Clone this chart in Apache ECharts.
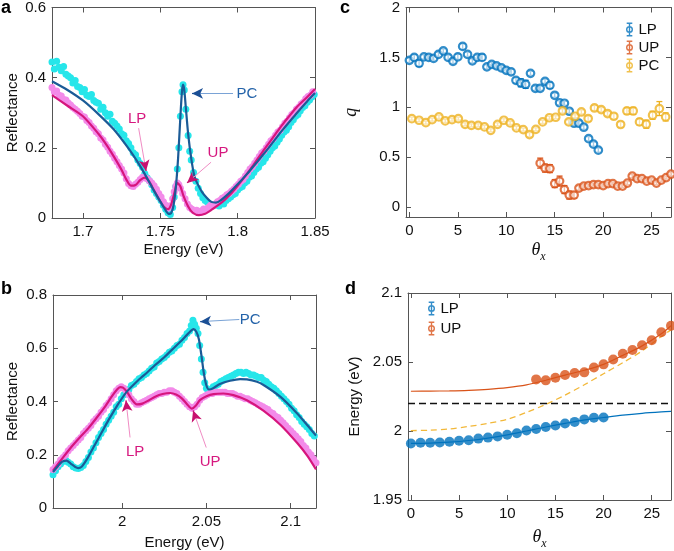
<!DOCTYPE html>
<html><head><meta charset="utf-8">
<script src="https://cdn.jsdelivr.net/npm/echarts@6/dist/echarts.min.js"></script>
<style>html,body{margin:0;padding:0;background:#fff}#c{width:674px;height:551px}</style>
</head><body><div id="c"></div>
<script>
// ---------------- DATA ----------------
// Panel a: measured reflectance (PC cyan, coupled pink) and fits
const aCyan = [[1.680,0.445],[1.6815,0.425],[1.683,0.447],[1.6845,0.43],[1.686,0.42],[1.6875,0.432],[1.689,0.41],[1.6905,0.405],[1.692,0.40],[1.6935,0.385],[1.695,0.392],[1.6965,0.375],[1.698,0.372],[1.6995,0.36],[1.701,0.366],[1.7025,0.35],[1.704,0.346],[1.7055,0.352],[1.707,0.335],[1.7085,0.33],[1.710,0.327],[1.7115,0.31],[1.713,0.316],[1.7145,0.30],[1.716,0.29],[1.7175,0.296],[1.719,0.276],[1.7205,0.27],[1.722,0.262],[1.7235,0.254],[1.725,0.24],[1.7265,0.236],[1.728,0.22],[1.7295,0.212],[1.731,0.20],[1.7325,0.186],[1.734,0.18],[1.7355,0.165],[1.737,0.155],[1.7385,0.145],[1.740,0.126],[1.7415,0.115],[1.743,0.106],[1.7445,0.095],[1.746,0.08],[1.7475,0.07],[1.749,0.06],[1.7505,0.05],[1.752,0.036],[1.7535,0.025],[1.755,0.015],[1.7565,0.01],[1.758,0.03],[1.759,0.06],[1.760,0.09],[1.761,0.14],[1.762,0.20],[1.763,0.29],[1.764,0.36],[1.7647,0.38],[1.7655,0.365],[1.7665,0.31],[1.768,0.235],[1.769,0.19],[1.770,0.165],[1.7715,0.13],[1.773,0.105],[1.7745,0.085],[1.776,0.07],[1.7775,0.058],[1.779,0.05],[1.7805,0.045],[1.782,0.04],[1.7835,0.034],[1.785,0.036],[1.7865,0.042],[1.788,0.034],[1.7895,0.046],[1.791,0.04],[1.7925,0.05],[1.794,0.055],[1.7955,0.06],[1.797,0.066],[1.7985,0.07],[1.800,0.08],[1.8015,0.086],[1.803,0.09],[1.8045,0.10],[1.806,0.105],[1.8075,0.116],[1.809,0.12],[1.8105,0.13],[1.812,0.14],[1.8135,0.145],[1.815,0.156],[1.8165,0.16],[1.818,0.17],[1.8195,0.18],[1.821,0.19],[1.8225,0.20],[1.824,0.205],[1.8255,0.216],[1.827,0.225],[1.8285,0.236],[1.830,0.245],[1.8315,0.25],[1.833,0.26],[1.8345,0.272],[1.836,0.28],[1.8375,0.29],[1.839,0.295],[1.8405,0.306],[1.842,0.315],[1.8435,0.32],[1.845,0.33],[1.8465,0.336],[1.848,0.345],[1.8495,0.352]];
const aPink = [[1.680,0.372],[1.6815,0.36],[1.683,0.362],[1.6845,0.35],[1.686,0.348],[1.6875,0.338],[1.689,0.336],[1.6905,0.328],[1.692,0.322],[1.6935,0.315],[1.695,0.31],[1.6965,0.304],[1.698,0.298],[1.6995,0.29],[1.701,0.288],[1.7025,0.278],[1.704,0.272],[1.7055,0.262],[1.707,0.256],[1.7085,0.246],[1.710,0.24],[1.7115,0.228],[1.713,0.222],[1.7145,0.21],[1.716,0.202],[1.7175,0.19],[1.719,0.182],[1.7205,0.17],[1.722,0.16],[1.7235,0.15],[1.725,0.14],[1.7265,0.128],[1.728,0.112],[1.7295,0.098],[1.731,0.092],[1.7325,0.09],[1.734,0.096],[1.7355,0.102],[1.737,0.11],[1.7385,0.116],[1.740,0.115],[1.7415,0.112],[1.743,0.106],[1.7445,0.10],[1.746,0.092],[1.7475,0.082],[1.749,0.07],[1.7505,0.06],[1.752,0.046],[1.7535,0.036],[1.755,0.028],[1.7565,0.035],[1.758,0.055],[1.759,0.075],[1.760,0.09],[1.761,0.10],[1.762,0.095],[1.763,0.085],[1.7645,0.07],[1.766,0.055],[1.7675,0.04],[1.769,0.03],[1.7705,0.025],[1.772,0.02],[1.7735,0.022],[1.775,0.016],[1.7765,0.02],[1.778,0.026],[1.7795,0.024],[1.781,0.03],[1.7825,0.036],[1.784,0.034],[1.7855,0.04],[1.787,0.046],[1.7885,0.05],[1.790,0.056],[1.7915,0.06],[1.793,0.066],[1.7945,0.07],[1.796,0.076],[1.7975,0.082],[1.799,0.09],[1.8005,0.096],[1.802,0.105],[1.8035,0.11],[1.805,0.12],[1.8065,0.13],[1.808,0.14],[1.8095,0.146],[1.811,0.156],[1.8125,0.165],[1.814,0.175],[1.8155,0.185],[1.817,0.19],[1.8185,0.20],[1.820,0.21],[1.8215,0.22],[1.823,0.226],[1.8245,0.236],[1.826,0.245],[1.8275,0.25],[1.829,0.26],[1.8305,0.27],[1.832,0.276],[1.8335,0.286],[1.835,0.295],[1.8365,0.30],[1.838,0.31],[1.8395,0.316],[1.841,0.325],[1.8425,0.33],[1.844,0.34],[1.8455,0.346],[1.847,0.35],[1.8485,0.36]];
const aBlueFit = [[1.680,0.390],[1.690,0.365],[1.700,0.335],[1.710,0.296],[1.720,0.252],[1.730,0.195],[1.735,0.162],[1.740,0.125],[1.745,0.085],[1.750,0.047],[1.753,0.025],[1.7555,0.012],[1.757,0.014],[1.7585,0.035],[1.760,0.085],[1.7615,0.17],[1.763,0.29],[1.764,0.36],[1.7647,0.38],[1.7655,0.365],[1.7665,0.315],[1.768,0.24],[1.770,0.17],[1.772,0.12],[1.774,0.098],[1.777,0.074],[1.780,0.058],[1.783,0.046],[1.786,0.044],[1.789,0.05],[1.795,0.073],[1.800,0.096],[1.806,0.125],[1.810,0.146],[1.816,0.178],[1.820,0.200],[1.827,0.240],[1.830,0.256],[1.838,0.298],[1.845,0.333],[1.850,0.356]];
const aPinkFit = [[1.680,0.350],[1.690,0.320],[1.700,0.290],[1.710,0.240],[1.715,0.210],[1.720,0.175],[1.725,0.137],[1.728,0.110],[1.731,0.092],[1.734,0.094],[1.737,0.108],[1.740,0.115],[1.743,0.103],[1.746,0.078],[1.750,0.047],[1.753,0.029],[1.755,0.025],[1.757,0.038],[1.759,0.070],[1.761,0.100],[1.763,0.090],[1.765,0.063],[1.768,0.033],[1.771,0.015],[1.775,0.008],[1.779,0.012],[1.783,0.023],[1.790,0.045],[1.795,0.066],[1.800,0.092],[1.806,0.126],[1.810,0.150],[1.816,0.188],[1.820,0.212],[1.827,0.255],[1.830,0.272],[1.838,0.315],[1.845,0.345],[1.850,0.368]];

// Panel b
const bCyan = [[1.959,0.125],[1.9605,0.14],[1.962,0.155],[1.9635,0.165],[1.965,0.175],[1.9665,0.18],[1.968,0.172],[1.9695,0.165],[1.971,0.155],[1.9725,0.15],[1.974,0.148],[1.9755,0.152],[1.977,0.16],[1.9785,0.175],[1.980,0.19],[1.9815,0.21],[1.983,0.225],[1.9845,0.245],[1.986,0.265],[1.9875,0.28],[1.989,0.295],[1.9905,0.315],[1.992,0.33],[1.9935,0.345],[1.995,0.36],[1.9965,0.38],[1.998,0.39],[1.9995,0.41],[2.001,0.425],[2.0025,0.435],[2.004,0.445],[2.0055,0.46],[2.007,0.465],[2.0085,0.475],[2.010,0.485],[2.0115,0.49],[2.013,0.50],[2.0145,0.505],[2.016,0.515],[2.0175,0.525],[2.019,0.53],[2.0205,0.545],[2.022,0.55],[2.0235,0.56],[2.025,0.565],[2.0265,0.575],[2.028,0.585],[2.0295,0.59],[2.031,0.60],[2.0325,0.61],[2.034,0.615],[2.0355,0.63],[2.037,0.64],[2.0385,0.655],[2.040,0.665],[2.041,0.685],[2.042,0.705],[2.043,0.69],[2.044,0.675],[2.045,0.655],[2.046,0.61],[2.047,0.56],[2.048,0.51],[2.049,0.47],[2.050,0.45],[2.051,0.44],[2.0525,0.445],[2.054,0.455],[2.0555,0.46],[2.057,0.465],[2.0585,0.475],[2.060,0.48],[2.0615,0.485],[2.063,0.49],[2.0645,0.495],[2.066,0.50],[2.0675,0.505],[2.069,0.51],[2.0705,0.51],[2.072,0.505],[2.0735,0.51],[2.075,0.505],[2.0765,0.50],[2.078,0.50],[2.0795,0.495],[2.081,0.49],[2.0825,0.49],[2.084,0.48],[2.0855,0.475],[2.087,0.465],[2.0885,0.455],[2.090,0.45],[2.0915,0.44],[2.093,0.43],[2.0945,0.42],[2.096,0.41],[2.0975,0.40],[2.099,0.39],[2.1005,0.375],[2.102,0.365],[2.1035,0.35],[2.105,0.34],[2.1065,0.325],[2.108,0.315],[2.1095,0.305],[2.111,0.295],[2.1125,0.28],[2.114,0.27]];
const bPink = [[1.959,0.145],[1.9605,0.155],[1.962,0.165],[1.9635,0.18],[1.965,0.19],[1.9665,0.20],[1.968,0.215],[1.9695,0.225],[1.971,0.235],[1.9725,0.245],[1.974,0.255],[1.9755,0.265],[1.977,0.28],[1.9785,0.29],[1.980,0.30],[1.9815,0.31],[1.983,0.325],[1.9845,0.335],[1.986,0.345],[1.9875,0.36],[1.989,0.37],[1.9905,0.385],[1.992,0.395],[1.9935,0.41],[1.995,0.425],[1.9965,0.44],[1.998,0.45],[1.9995,0.455],[2.001,0.45],[2.0025,0.44],[2.004,0.425],[2.0055,0.41],[2.007,0.40],[2.0085,0.39],[2.010,0.39],[2.0115,0.395],[2.013,0.40],[2.0145,0.405],[2.016,0.41],[2.0175,0.415],[2.019,0.42],[2.0205,0.425],[2.022,0.43],[2.0235,0.43],[2.025,0.435],[2.0265,0.435],[2.028,0.44],[2.0295,0.44],[2.031,0.435],[2.0325,0.43],[2.034,0.42],[2.0355,0.41],[2.037,0.40],[2.0385,0.39],[2.040,0.38],[2.0415,0.375],[2.043,0.38],[2.0445,0.39],[2.046,0.405],[2.0475,0.415],[2.049,0.42],[2.0505,0.425],[2.052,0.43],[2.0535,0.43],[2.055,0.435],[2.0565,0.435],[2.058,0.435],[2.0595,0.435],[2.061,0.435],[2.0625,0.43],[2.064,0.43],[2.0655,0.43],[2.067,0.425],[2.0685,0.42],[2.070,0.42],[2.0715,0.415],[2.073,0.41],[2.0745,0.41],[2.076,0.405],[2.0775,0.40],[2.079,0.395],[2.0805,0.39],[2.082,0.385],[2.0835,0.38],[2.085,0.375],[2.0865,0.37],[2.088,0.36],[2.0895,0.355],[2.091,0.345],[2.0925,0.34],[2.094,0.33],[2.0955,0.32],[2.097,0.31],[2.0985,0.30],[2.100,0.29],[2.1015,0.28],[2.103,0.27],[2.1045,0.26],[2.106,0.25],[2.1075,0.235],[2.109,0.225],[2.1105,0.21],[2.112,0.20],[2.1135,0.185],[2.115,0.17]];
const bBlueFit = [[1.959,0.135],[1.962,0.158],[1.9645,0.174],[1.967,0.178],[1.9695,0.167],[1.972,0.155],[1.974,0.150],[1.976,0.155],[1.978,0.172],[1.980,0.193],[1.983,0.228],[1.986,0.262],[1.989,0.297],[1.992,0.331],[1.995,0.363],[1.998,0.394],[2.0028,0.437],[2.0097,0.481],[2.015,0.510],[2.0196,0.537],[2.025,0.566],[2.0295,0.594],[2.035,0.627],[2.0393,0.656],[2.0423,0.672],[2.044,0.662],[2.0455,0.635],[2.047,0.575],[2.0485,0.505],[2.050,0.46],[2.0515,0.445],[2.054,0.45],[2.058,0.466],[2.064,0.478],[2.070,0.484],[2.074,0.483],[2.080,0.474],[2.0839,0.462],[2.0938,0.418],[2.1037,0.356],[2.110,0.31],[2.115,0.272]];
const bPinkFit = [[1.959,0.140],[1.965,0.19],[1.9701,0.231],[1.975,0.266],[1.980,0.30],[1.985,0.34],[1.9899,0.381],[1.994,0.42],[1.997,0.445],[1.9988,0.454],[2.0005,0.452],[2.0028,0.437],[2.0055,0.41],[2.0087,0.389],[2.012,0.392],[2.016,0.405],[2.0196,0.418],[2.024,0.428],[2.0285,0.432],[2.032,0.426],[2.0354,0.412],[2.0385,0.39],[2.0414,0.373],[2.0435,0.383],[2.0463,0.406],[2.050,0.42],[2.0542,0.428],[2.0601,0.43],[2.066,0.424],[2.074,0.405],[2.084,0.365],[2.094,0.312],[2.104,0.243],[2.110,0.195],[2.115,0.145]];

// Panel c: Fano q parameter vs angle
const cLpTheta = [0,0.5,1,1.5,2,2.5,3,3.5,4,4.5,5,5.5,6,6.5,7,7.5,8,8.5,9,9.5,10,10.5,11,11.5,12,12.5,13,13.5,14,14.5,15,15.5,16,16.5,17,17.5,18,18.5,19,19.5];
const cLpQ = [1.47,1.50,1.44,1.505,1.50,1.49,1.53,1.565,1.50,1.46,1.505,1.61,1.53,1.465,1.50,1.50,1.405,1.43,1.415,1.395,1.37,1.355,1.27,1.245,1.23,1.34,1.19,1.19,1.26,1.22,1.12,1.045,1.04,0.96,0.84,0.84,0.80,0.685,0.63,0.57];
const cLpErr = [0.02,0.025,0.03,0.02,0.02,0.02,0.02,0.02,0.02,0.02,0.025,0.025,0.02,0.02,0.02,0.03,0.02,0.02,0.02,0.02,0.02,0.025,0.025,0.04,0.04,0.02,0.02,0.02,0.02,0.03,0.02,0.02,0.02,0.02,0.02,0.02,0.02,0.02,0.02,0.02];
const cUpTheta = [13.5,14,14.5,15,15.5,16,16.5,17,17.5,18,18.5,19,19.5,20,20.5,21,21.5,22,22.5,23,23.5,24,24.5,25,25.5,26,26.5,27];
const cUpQ = [0.44,0.39,0.385,0.235,0.26,0.175,0.12,0.12,0.19,0.21,0.215,0.225,0.225,0.215,0.235,0.235,0.21,0.21,0.24,0.31,0.285,0.285,0.26,0.27,0.24,0.27,0.295,0.33];
const cUpErr = [0.05,0.04,0.04,0.04,0.05,0.04,0.04,0.03,0.02,0.015,0.015,0.015,0.015,0.015,0.015,0.015,0.015,0.015,0.015,0.015,0.015,0.015,0.015,0.015,0.015,0.015,0.015,0.015];
const cPcTheta = [0.25,1.0,1.7,2.35,3.05,3.7,4.4,5.05,5.75,6.4,7.1,7.75,8.4,9.1,9.75,10.4,11.05,11.75,12.4,13.05,13.75,14.45,15.1,15.8,16.45,17.1,17.75,18.45,19.1,19.8,20.45,21.1,21.8,22.45,23.1,23.75,24.45,25.1,25.8,26.45];
const cPcQ = [0.886,0.87,0.846,0.876,0.903,0.863,0.876,0.886,0.829,0.819,0.819,0.803,0.769,0.829,0.87,0.843,0.793,0.776,0.726,0.779,0.853,0.895,0.90,0.963,0.853,0.91,0.953,0.887,0.993,0.977,0.937,0.91,0.827,0.963,0.963,0.853,0.83,0.92,0.987,0.903];
const cPcErr = [0.015,0.015,0.015,0.015,0.015,0.015,0.015,0.015,0.015,0.015,0.015,0.015,0.015,0.015,0.015,0.015,0.015,0.015,0.02,0.015,0.015,0.015,0.015,0.02,0.02,0.015,0.02,0.025,0.025,0.02,0.02,0.025,0.025,0.03,0.035,0.03,0.04,0.04,0.07,0.04];

// Panel d: polariton dispersion
const dLpTheta = [0,1,2,3,4,5,6,7,8,9,10,11,12,13,14,15,16,17,18,19,20];
const dLpE = [1.991,1.9915,1.9915,1.9917,1.9922,1.9929,1.9933,1.9945,1.9952,1.9961,1.9973,1.9984,2.0003,2.0015,2.0029,2.004,2.0054,2.0066,2.0084,2.0096,2.0098];
const dUpTheta = [13,14,15,16,17,18,19,20,21,22,23,24,25,26,27];
const dUpE = [2.0374,2.0367,2.0386,2.0406,2.042,2.0425,2.046,2.0483,2.0518,2.056,2.0587,2.0622,2.0657,2.0715,2.0763];
const dFitTheta = [0,2,4,6,8,10,12,14,16,18,20,22,24,26,27];
const dUpFit = [2.0288,2.0289,2.0291,2.0295,2.0302,2.0314,2.0334,2.0368,2.0405,2.0440,2.0483,2.0548,2.0617,2.0705,2.0763];
const dLpFit = [1.9910,1.9912,1.9919,1.9931,1.9949,1.9972,2.0000,2.0029,2.0055,2.0080,2.0098,2.0115,2.0128,2.0138,2.0142];
const dPhFit = [2.0003,2.0006,2.0015,2.0033,2.0055,2.0085,2.0135,2.0193,2.0260,2.0335,2.0415,2.0495,2.0580,2.0685,2.0733];
const dExciton = 2.0193;

// Tick labels
const aXTicks = [1.7,1.75,1.8,1.85], aYTicks = [0,0.2,0.4,0.6];
const bXTicks = [2,2.05,2.1], bYTicks = [0,0.2,0.4,0.6,0.8];
const cXTicks = [0,5,10,15,20,25], cYTicks = [0,0.5,1,1.5,2];
const dXTicks = [0,5,10,15,20,25], dYTicks = [1.95,2,2.05,2.1];

// Annotation anchors (data coordinates): text, arrow start, arrow end
const annA = [
  {t:'PC', c:'blue', text:[1.806,0.355], from:[1.797,0.355], to:[1.7705,0.355]},
  {t:'LP', c:'pink', text:[1.735,0.284], from:[1.736,0.256], to:[1.7408,0.134]},
  {t:'UP', c:'pink', text:[1.7873,0.185], from:[1.7828,0.159], to:[1.7673,0.10]}
];
const annB = [
  {t:'PC', c:'blue', text:[2.076,0.705], from:[2.0695,0.708], to:[2.0463,0.70]},
  {t:'LP', c:'pink', text:[2.0077,0.211], from:[2.0047,0.265], to:[2.0023,0.404]},
  {t:'UP', c:'pink', text:[2.0522,0.175], from:[2.0499,0.227], to:[2.0421,0.366]}
];

// ---------------- STYLE ----------------
const FONT = '"Liberation Sans", Arial, Helvetica, sans-serif';
const SERIF = '"Liberation Serif", "Times New Roman", serif';
const AX = '#555';
const CYAN = '#26e6ea', PINK = '#f38ae9', BLUEFIT = '#1b5b97', PINKFIT = '#d6157d';
const LPC = '#0072BD', UPC = '#D95319', PCC = '#EDB120';
const ANNCOL = {blue:{text:'#2463a9', line:'#7aa3d6', head:'#1b4f95'}, pink:{text:'#d6187f', line:'#f08cc4', head:'#c8106f'}};
const ICON = 'path://M6 0H14V2H11V18H14V20H6V18H9V2H6Z M10 5A5 5 0 1 1 10 15A5 5 0 1 1 10 5Z M10 7A3 3 0 1 0 10 13A3 3 0 1 0 10 7Z';

const fmt = v => String(+(+v).toFixed(3));

function xAxes(gi, min, max, ticks, name, nameGap, nameStyle) {
  const base = {gridIndex: gi, type: 'value', min, max, splitLine: {show: false},
    axisLine: {show: true, onZero: false, lineStyle: {color: AX, width: 1}},
    axisTick: {show: true, inside: true, length: 5, customValues: ticks, lineStyle: {color: AX}}};
  return [
    Object.assign({}, base, {position: 'bottom', name, nameLocation: 'middle', nameGap,
      nameTextStyle: nameStyle,
      axisLabel: {customValues: ticks, formatter: fmt, color: '#111', fontSize: 15, fontFamily: FONT, margin: 6}}),
    Object.assign({}, base, {position: 'top', axisLabel: {show: false}})
  ];
}
function yAxes(gi, min, max, ticks, name, nameGap, nameStyle) {
  const base = {gridIndex: gi, type: 'value', min, max, splitLine: {show: false},
    axisLine: {show: true, onZero: false, lineStyle: {color: AX, width: 1}},
    axisTick: {show: true, inside: true, length: 5, customValues: ticks, lineStyle: {color: AX}}};
  return [
    Object.assign({}, base, {position: 'left', name, nameLocation: 'middle', nameGap,
      nameTextStyle: nameStyle,
      axisLabel: {customValues: ticks, formatter: fmt, color: '#111', fontSize: 15, fontFamily: FONT, margin: 6}}),
    Object.assign({}, base, {position: 'right', axisLabel: {show: false}})
  ];
}
const sansName = {fontSize: 15, fontFamily: FONT, color: '#111'};
const thetaName = {rich: {
  t: {fontFamily: SERIF, fontStyle: 'italic', fontSize: 18, color: '#111', lineHeight: 22, verticalAlign: 'bottom'},
  s: {fontFamily: SERIF, fontStyle: 'italic', fontSize: 12, color: '#111', lineHeight: 22, verticalAlign: 'bottom', padding: [0,0,-4,0]}
}};

const xAxis = [].concat(
  xAxes(0, 1.68, 1.85, aXTicks, 'Energy (eV)', 24, sansName),
  xAxes(1, 1.959, 2.115, bXTicks, 'Energy (eV)', 27, sansName),
  xAxes(2, -0.35, 27, cXTicks, '{t|θ}{s|x}', 20, thetaName),
  xAxes(3, -0.3, 27, dXTicks, '{t|θ}{s|x}', 24, thetaName)
);
const yAxis = [].concat(
  yAxes(0, 0, 0.6, aYTicks, 'Reflectance', 32, sansName),
  yAxes(1, 0, 0.8, bYTicks, 'Reflectance', 33, sansName),
  yAxes(2, -0.1, 2, cYTicks, 'q', 46, {fontFamily: SERIF, fontStyle: 'italic', fontSize: 18, color: '#111'}),
  yAxes(3, 1.95, 2.1, dYTicks, 'Energy (eV)', 46, sansName)
);
// axis indices: bottom/left of grid g = 2*g
const grid = [
  {left: 52, top: 7, width: 263, height: 211},
  {left: 53, top: 295, width: 263, height: 213},
  {left: 406, top: 7, width: 265, height: 210},
  {left: 408, top: 293, width: 263, height: 216}
];

const series = [];
function scatterBand(g, data, color) {
  series.push({type: 'scatter', xAxisIndex: 2*g, yAxisIndex: 2*g, data, symbol: 'circle', symbolSize: 7,
    itemStyle: {color, opacity: 1}, silent: true, z: 1});
}
function fitLine(g, data, color, width, z, extra) {
  series.push(Object.assign({type: 'line', xAxisIndex: 2*g, yAxisIndex: 2*g, data, showSymbol: false, symbol: 'none',
    smooth: 0.25, lineStyle: {color, width}, itemStyle: {color}, silent: true, z}, extra || {}));
}
function annotations(g, list) {
  list.forEach(a => {
    const col = ANNCOL[a.c];
    const k = 0.8;
    const mid = [a.from[0] + k*(a.to[0]-a.from[0]), a.from[1] + k*(a.to[1]-a.from[1])];
    series.push({type: 'line', xAxisIndex: 2*g, yAxisIndex: 2*g, data: [], silent: true, z: 6,
      markLine: {silent: true, animation: false, symbol: ['none', 'none'], label: {show: false},
        lineStyle: {color: col.line, width: 1, type: 'solid'},
        data: [[{coord: a.from}, {coord: mid}]]},
      markPoint: {silent: true, animation: false, symbol: 'circle', symbolSize: 1, itemStyle: {color: 'rgba(0,0,0,0)'},
        label: {show: true, position: 'inside', formatter: a.t, color: col.text, fontSize: 15, fontFamily: FONT},
        data: [{coord: a.text}]}
    });
    series.push({type: 'line', xAxisIndex: 2*g, yAxisIndex: 2*g, data: [], silent: true, z: 7,
      markLine: {silent: true, animation: false, symbol: ['none', 'arrow'], symbolSize: [8, 11], label: {show: false},
        lineStyle: {color: col.head, width: 1.2, type: 'solid'},
        data: [[{coord: mid}, {coord: a.to}]]}
    });
  });
}

// Panel a
scatterBand(0, aCyan, CYAN);
scatterBand(0, aPink, PINK);
fitLine(0, aPinkFit, PINKFIT, 2.2, 3);
fitLine(0, aBlueFit, BLUEFIT, 2.2, 4);
annotations(0, annA);
// Panel b
scatterBand(1, bCyan, CYAN);
scatterBand(1, bPink, PINK);
fitLine(1, bPinkFit, PINKFIT, 2.2, 3);
fitLine(1, bBlueFit, BLUEFIT, 2.2, 4);
annotations(1, annB);

// Panel c error bars + markers
function errRender(params, api) {
  const x = api.value(0), lo = api.value(1), hi = api.value(2);
  const p1 = api.coord([x, lo]), p2 = api.coord([x, hi]);
  const col = api.visual('color'), w = 3;
  const st = {stroke: col, lineWidth: 1.3};
  return {type: 'group', children: [
    {type: 'line', shape: {x1: p1[0], y1: p1[1], x2: p2[0], y2: p2[1]}, style: st},
    {type: 'line', shape: {x1: p1[0]-w, y1: p1[1], x2: p1[0]+w, y2: p1[1]}, style: st},
    {type: 'line', shape: {x1: p2[0]-w, y1: p2[1], x2: p2[0]+w, y2: p2[1]}, style: st}
  ]};
}
function qSeries(name, th, q, err, color) {
  series.push({type: 'custom', name: name + ' err', xAxisIndex: 4, yAxisIndex: 4, renderItem: errRender,
    itemStyle: {color}, encode: {x: 0, y: [1, 2]}, silent: true, z: 2,
    data: th.map((t, i) => [t, q[i] - err[i], q[i] + err[i]])});
  series.push({type: 'scatter', name, xAxisIndex: 4, yAxisIndex: 4, symbol: 'circle', symbolSize: 7.5,
    itemStyle: {color: 'rgba(255,255,255,0.8)', borderColor: color, borderWidth: 2.2}, silent: true, z: 3,
    data: th.map((t, i) => [t, q[i]])});
}
qSeries('LP', cLpTheta, cLpQ, cLpErr, LPC);
qSeries('UP', cUpTheta, cUpQ, cUpErr, UPC);
qSeries('PC', cPcTheta, cPcQ, cPcErr, PCC);

// Panel d
series.push({type: 'line', name: 'photon', xAxisIndex: 6, yAxisIndex: 6, data: dFitTheta.map((t, i) => [t, dPhFit[i]]),
  showSymbol: false, symbol: 'none', smooth: 0.3, silent: true, z: 2,
  lineStyle: {color: '#f2b83a', width: 1.3, type: [6, 4]},
  markLine: {silent: true, animation: false, symbol: ['none', 'none'], label: {show: false},
    lineStyle: {color: '#111', width: 1.3, type: [7, 4]}, data: [{yAxis: dExciton}]}});
series.push({type: 'line', name: 'UP fit', xAxisIndex: 6, yAxisIndex: 6, data: dFitTheta.map((t, i) => [t, dUpFit[i]]),
  showSymbol: false, symbol: 'none', smooth: 0.3, silent: true, z: 2, lineStyle: {color: UPC, width: 1.2}});
series.push({type: 'line', name: 'LP fit', xAxisIndex: 6, yAxisIndex: 6, data: dFitTheta.map((t, i) => [t, dLpFit[i]]),
  showSymbol: false, symbol: 'none', smooth: 0.3, silent: true, z: 2, lineStyle: {color: LPC, width: 1.2}});
series.push({type: 'scatter', name: 'LP', xAxisIndex: 6, yAxisIndex: 6, symbol: 'circle', symbolSize: 10,
  itemStyle: {color: LPC, borderColor: LPC, borderWidth: 0}, silent: true, z: 3,
  data: dLpTheta.map((t, i) => [t, dLpE[i]])});
series.push({type: 'scatter', name: 'UP', xAxisIndex: 6, yAxisIndex: 6, symbol: 'circle', symbolSize: 10,
  itemStyle: {color: UPC, borderColor: UPC, borderWidth: 0}, silent: true, z: 3,
  data: dUpTheta.map((t, i) => [t, dUpE[i]])});

const legItem = (name, color) => ({name, icon: ICON, itemStyle: {color, borderWidth: 0}});
const legend = [
  {left: 621, top: 17, orient: 'vertical', itemWidth: 10, itemHeight: 14, itemGap: 3, selectedMode: false,
   textStyle: {fontSize: 15, fontFamily: FONT, color: '#111', padding: [0, 0, 0, -1]},
   data: [legItem('LP', LPC), legItem('UP', UPC), legItem('PC', PCC)]},
  {left: 423, top: 296, orient: 'vertical', itemWidth: 10, itemHeight: 14, itemGap: 5, selectedMode: false,
   textStyle: {fontSize: 15, fontFamily: FONT, color: '#111', padding: [0, 0, 0, -1]},
   data: [legItem('LP', LPC), legItem('UP', UPC)]}
];

const letters = [['a', 1, -1], ['c', 340, -1], ['b', 1, 280], ['d', 345, 280]];
const graphic = letters.map(([t, x, y]) => ({type: 'text', left: x, top: y, silent: true,
  style: {text: t, fontSize: 18, fontWeight: 'bold', fontFamily: FONT, fill: '#000'}}));

const chart = echarts.init(document.getElementById('c'), null, {renderer: 'canvas'});
chart.setOption({animation: false, backgroundColor: '#fff', grid, xAxis, yAxis, series, legend, graphic});
</script></body></html>
